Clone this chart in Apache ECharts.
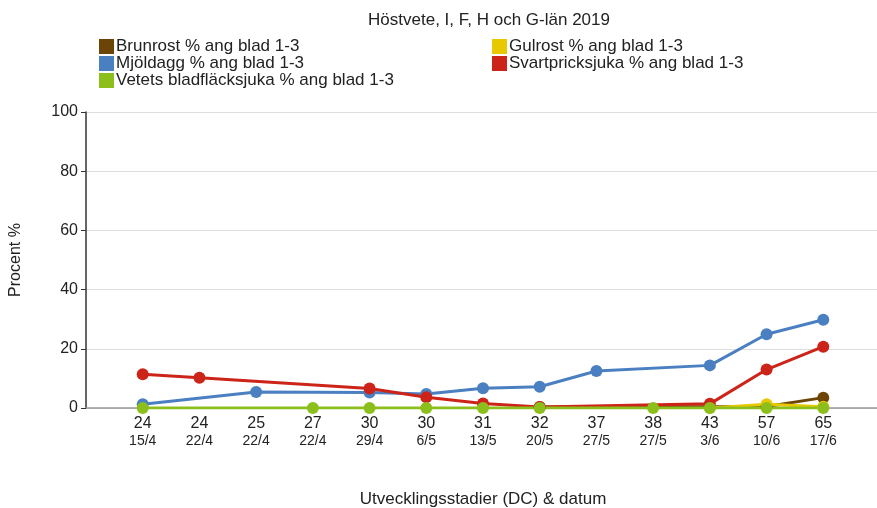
<!DOCTYPE html>
<html><head><meta charset="utf-8">
<script src="https://cdn.jsdelivr.net/npm/echarts@6/dist/echarts.min.js"></script>
<style>html,body{margin:0;padding:0;background:#fff}#c{width:877px;height:508px}</style>
</head><body><div id="c"></div>
<script>
const stages = ['24','24','25','27','30','30','31','32','37','38','43','57','65'];
const dates  = ['15/4','22/4','22/4','22/4','29/4','6/5','13/5','20/5','27/5','27/5','3/6','10/6','17/6'];
const brunrost = [null,null,null,null,null,null,null,0.3,null,null,null,0.5,3.5];
const gulrost  = [null,null,null,null,null,null,null,null,null,null,0,1.3,0.4];
const mjoldagg = [1.3,null,5.4,null,5.2,4.7,6.7,7.2,12.5,null,14.4,24.9,29.8];
const svartpricksjuka = [11.4,10.2,null,null,6.6,3.6,1.5,0.3,null,null,1.4,13.0,20.7];
const vetets   = [0,null,null,0,0,0,0,0,null,0,0,0,0];

const names = ['Brunrost % ang blad 1-3','Gulrost % ang blad 1-3','Mjöldagg % ang blad 1-3','Svartpricksjuka % ang blad 1-3','Vetets bladfläcksjuka % ang blad 1-3'];
const colors = ['#6b4406','#e8c800','#4a7fc1','#cc2418','#8cbf1c'];
const values = [brunrost, gulrost, mjoldagg, svartpricksjuka, vetets];

const cats = [''].concat(stages.map((s,i)=>s+'\n'+dates[i])).concat(['']);
const pad = a => [null].concat(a).concat([null]);

const chart = echarts.init(document.getElementById('c'));
chart.setOption({
  animation:false,
  textStyle:{fontFamily:'Liberation Sans, Arial, sans-serif'},
  title:{text:'Höstvete, I, F, H och G-län 2019', left:484, top:7, textAlign:'center',
    textStyle:{fontSize:17,fontWeight:'normal',color:'#222'}},
  legend:[
    {left:94, top:33, orient:'vertical', itemGap:0, itemWidth:15, itemHeight:15, icon:'rect',
     data:[names[0],names[2],names[4]], textStyle:{fontSize:17,lineHeight:15,color:'#222',padding:[0,0,0,-3]}},
    {left:487, top:33, orient:'vertical', itemGap:0, itemWidth:15, itemHeight:15, icon:'rect',
     data:[names[1],names[3]], textStyle:{fontSize:17,lineHeight:15,color:'#222',padding:[0,0,0,-3]}}
  ],
  grid:{left:86, right:-3, top:112, bottom:100, containLabel:false, outerBoundsMode:'none'},
  xAxis:{type:'category', data:cats, boundaryGap:false,
    name:'Utvecklingsstadier (DC) & datum', nameLocation:'middle', nameGap:83,
    nameTextStyle:{fontSize:17,color:'#222'},
    axisLine:{lineStyle:{color:'#999',width:1.5}}, axisTick:{show:false},
    axisLabel:{interval:0, margin:6, formatter:function(v){
      if(!v) return ''; const p=v.split('\n'); return '{a|'+p[0]+'}\n{b|'+p[1]+'}';},
      rich:{a:{fontSize:16,color:'#222',lineHeight:19},b:{fontSize:14,color:'#222',lineHeight:16}}}},
  yAxis:{type:'value', min:0, max:100, interval:20,
    name:'Procent %', nameLocation:'middle', nameGap:62, nameRotate:90,
    nameTextStyle:{fontSize:16,color:'#222'},
    axisLine:{show:true,lineStyle:{color:'#333',width:1.5}},
    axisTick:{show:true,length:5,lineStyle:{color:'#333'}},
    axisLabel:{fontSize:16,color:'#222',margin:8},
    splitLine:{lineStyle:{color:'#ddd'}}},
  series: names.map((n,i)=>({name:n, type:'line', data:pad(values[i]), connectNulls:true,
    symbol:'circle', symbolSize:12, color:colors[i],
    lineStyle:{width:3,color:colors[i]}, itemStyle:{color:colors[i]}}))
});
</script></body></html>
